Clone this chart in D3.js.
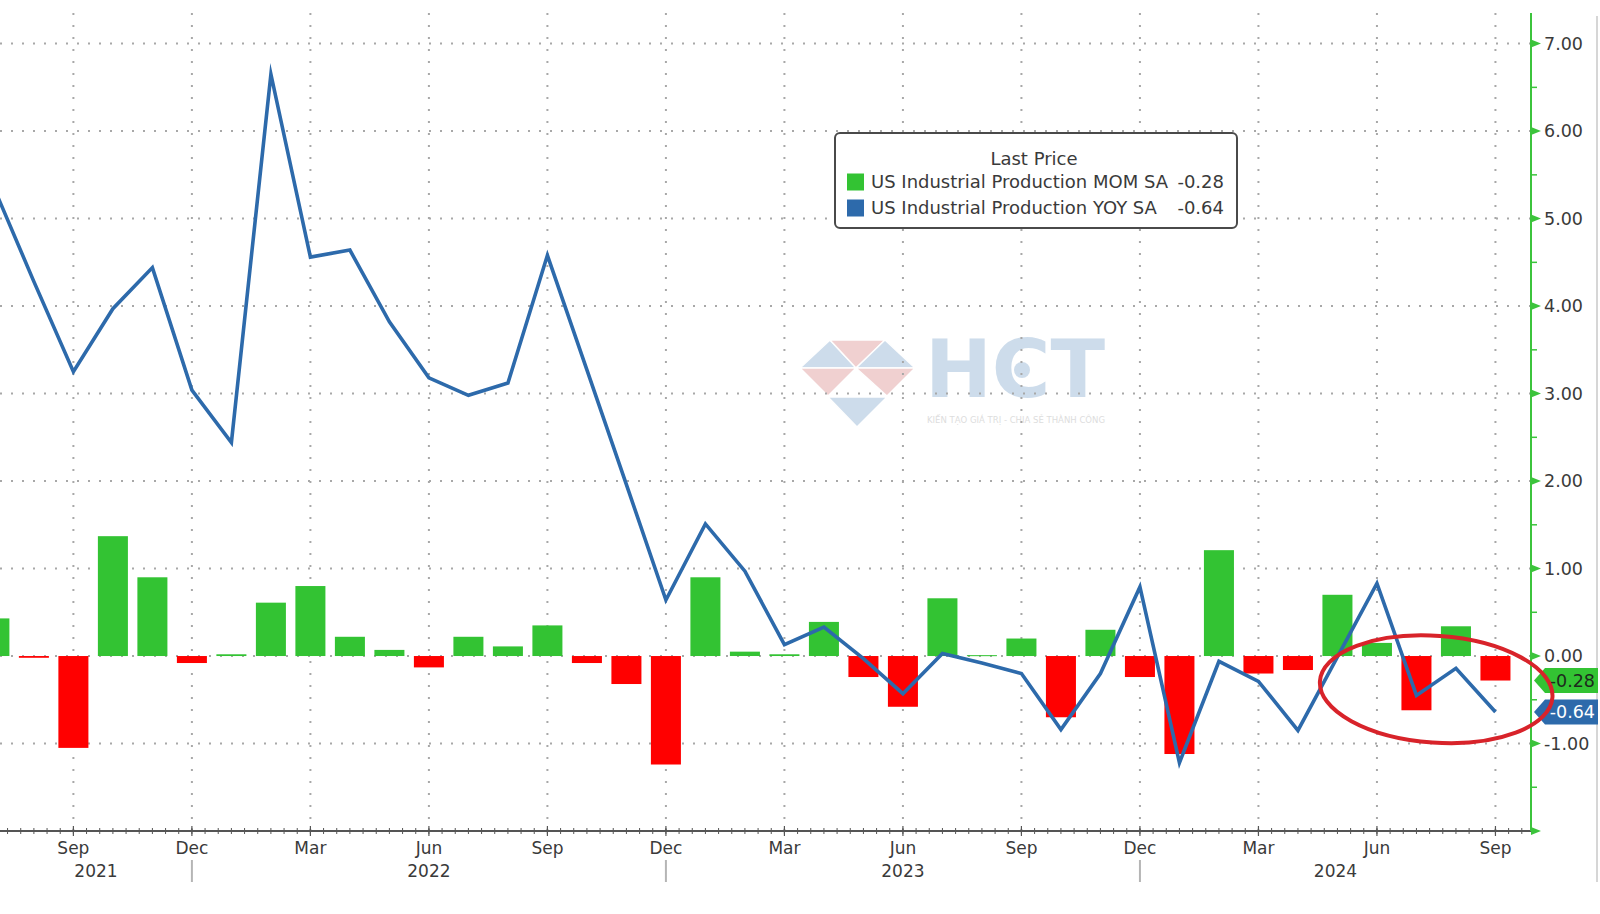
<!DOCTYPE html>
<html><head><meta charset="utf-8">
<script src="https://cdn.jsdelivr.net/npm/d3@7"></script>
<style>
html,body{margin:0;padding:0;background:#fff;overflow:hidden;}
svg{display:block;}
text{font-family:"DejaVu Sans","Verdana",sans-serif;}
</style></head><body>
<svg id="chart" width="1600" height="914"></svg>
<script>
// ---------- DATA ----------
const months = [
  "Jul 2021","Aug 2021","Sep 2021","Oct 2021","Nov 2021","Dec 2021",
  "Jan 2022","Feb 2022","Mar 2022","Apr 2022","May 2022","Jun 2022",
  "Jul 2022","Aug 2022","Sep 2022","Oct 2022","Nov 2022","Dec 2022",
  "Jan 2023","Feb 2023","Mar 2023","Apr 2023","May 2023","Jun 2023",
  "Jul 2023","Aug 2023","Sep 2023","Oct 2023","Nov 2023","Dec 2023",
  "Jan 2024","Feb 2024","Mar 2024","Apr 2024","May 2024","Jun 2024",
  "Jul 2024","Aug 2024","Sep 2024"
];
// US Industrial Production MOM SA (bars)
const mom = [
  0.43, -0.02, -1.05, 1.37, 0.90, -0.08,
  0.02, 0.61, 0.80, 0.22, 0.07, -0.13,
  0.22, 0.11, 0.35, -0.08, -0.32, -1.24,
  0.90, 0.05, 0.02, 0.39, -0.24, -0.58,
  0.66, 0.01, 0.20, -0.70, 0.30, -0.24,
  -1.12, 1.21, -0.20, -0.16, 0.70, 0.15,
  -0.62, 0.34, -0.28
];
// US Industrial Production YOY SA (line)
const yoy = [
  5.34, 4.28, 3.25, 3.97, 4.44, 3.04,
  2.44, 6.65, 4.56, 4.64, 3.82, 3.18,
  2.98, 3.12, 4.58, 3.27, 1.96, 0.64,
  1.51, 0.97, 0.13, 0.33, -0.03, -0.43,
  0.03, -0.08, -0.20, -0.84, -0.20, 0.79,
  -1.22, -0.06, -0.29, -0.85, -0.01, 0.83,
  -0.45, -0.14, -0.64
];
const yTickValues = [-1, 0, 1, 2, 3, 4, 5, 6, 7];
const quarterMonths = ["Sep", "Dec", "Mar", "Jun"];
const years = ["2021", "2022", "2023", "2024"];
const legendTitle = "Last Price";
const seriesNames = ["US Industrial Production MOM SA", "US Industrial Production YOY SA"];
const watermarkText = "HCT";
const watermarkSub = "KIẾN TẠO GIÁ TRỊ - CHIA SẺ THÀNH CÔNG";

// ---------- STYLE ----------
const C = {
  green: "#33c333", red: "#ff0000", blue: "#2d6aab", axisGreen: "#3cc43c",
  grid: "#a8a8a8", text: "#3a3a3a", axis: "#555", ellipse: "#d8232a"
};
const fmt = v => d3.format(".2f")(v).replace("\u2212", "-");

const svg = d3.select("#chart");
const plot = {left: 0, right: 1531, top: 13, bottom: 831};
const x = d3.scaleLinear().domain([0.142, 38.9]).range([plot.left, plot.right]);
const y = d3.scaleLinear().domain([-2, 7.35]).range([plot.bottom, plot.top]);
const step = x(1) - x(0);
const barW = step * 0.76;

svg.append("defs").append("clipPath").attr("id", "clip")
  .append("rect").attr("x", plot.left).attr("y", plot.top)
  .attr("width", plot.right - plot.left).attr("height", plot.bottom - plot.top);

// ---------- WATERMARK ----------
const wm = svg.append("g").attr("opacity", 0.5);
const wx = 800, wy = 340; // logo origin
const tri = [
  {p: [[0,28],[30,0],[56,28]], c: "#9dbbd9"},
  {p: [[30,0],[85,0],[56,28]], c: "#e3a3a3"},
  {p: [[56,28],[85,0],[115,28]], c: "#9dbbd9"},
  {p: [[0,28],[56,28],[28,56]], c: "#e3a3a3"},
  {p: [[56,28],[115,28],[87,56]], c: "#e3a3a3"},
  {p: [[28,57],[87,57],[57,87]], c: "#9dbbd9"}
];
wm.selectAll("polygon").data(tri).join("polygon")
  .attr("points", d => d.p.map(q => [wx + q[0], wy + q[1]].join(",")).join(" "))
  .attr("fill", d => d.c).attr("stroke", "#fff").attr("stroke-width", 1.5);
wm.append("text").attr("x", 925).attr("y", 397)
  .attr("font-family", "Liberation Sans, Arial, sans-serif").attr("font-weight", "bold")
  .attr("font-size", 80).attr("textLength", 180).attr("lengthAdjust", "spacing")
  .attr("fill", "#9dbbd9").text(watermarkText);
wm.append("circle").attr("cx", 1022).attr("cy", 370).attr("r", 8).attr("fill", "#9dbbd9");
wm.append("text").attr("x", 927).attr("y", 423).attr("font-size", 8)
  .attr("textLength", 178).attr("lengthAdjust", "spacingAndGlyphs").attr("fill", "#bdbdbd").text(watermarkSub);

// ---------- GRID ----------
const quarterIdx = months.map((m, i) => i).filter(i => quarterMonths.includes(months[i].slice(0, 3)));
svg.append("g").selectAll("line").data(yTickValues).join("line")
  .attr("x1", plot.left).attr("x2", plot.right)
  .attr("y1", d => y(d)).attr("y2", d => y(d))
  .attr("stroke", C.grid).attr("stroke-width", 2).attr("stroke-dasharray", "2,9");
svg.append("g").selectAll("line").data(quarterIdx).join("line")
  .attr("x1", d => x(d)).attr("x2", d => x(d))
  .attr("y1", plot.top).attr("y2", plot.bottom)
  .attr("stroke", C.grid).attr("stroke-width", 2).attr("stroke-dasharray", "2,10");

// ---------- BARS ----------
const pg = svg.append("g").attr("clip-path", "url(#clip)");
pg.selectAll("rect.bar").data(mom).join("rect").attr("class", "bar")
  .attr("x", (d, i) => x(i) - barW / 2)
  .attr("y", d => y(Math.max(0, d)))
  .attr("width", barW)
  .attr("height", d => Math.max(1, Math.abs(y(d) - y(0))))
  .attr("fill", d => d >= 0 ? C.green : C.red);

// ---------- LINE ----------
pg.append("path").datum(yoy)
  .attr("d", d3.line().x((d, i) => x(i)).y(d => y(d)))
  .attr("fill", "none").attr("stroke", C.blue).attr("stroke-width", 3.6)
  .attr("stroke-linejoin", "miter").attr("stroke-miterlimit", 10);

// ---------- X AXIS ----------
const xa = svg.append("g");
xa.append("line").attr("x1", plot.left).attr("x2", plot.right)
  .attr("y1", plot.bottom).attr("y2", plot.bottom)
  .attr("stroke", C.axis).attr("stroke-width", 2);
const minor = d3.range(Math.ceil(x.domain()[0] * 3) / 3, x.domain()[1], 1 / 3);
xa.selectAll("line.mt").data(minor).join("line").attr("class", "mt")
  .attr("x1", d => x(d)).attr("x2", d => x(d))
  .attr("y1", plot.bottom - 3).attr("y2", plot.bottom + 3)
  .attr("stroke", C.axis).attr("stroke-width", 1);
xa.selectAll("line.qt").data(quarterIdx).join("line").attr("class", "qt")
  .attr("x1", d => x(d)).attr("x2", d => x(d))
  .attr("y1", plot.bottom - 5).attr("y2", plot.bottom + 5)
  .attr("stroke", C.axis).attr("stroke-width", 1.2);
xa.selectAll("text.ml").data(quarterIdx).join("text").attr("class", "ml")
  .attr("x", d => x(d)).attr("y", 854).attr("text-anchor", "middle")
  .attr("font-size", 17).attr("fill", C.text).text(d => months[d].slice(0, 3));
const decIdx = months.map((m, i) => i).filter(i => months[i].startsWith("Dec"));
xa.selectAll("line.ys").data(decIdx).join("line").attr("class", "ys")
  .attr("x1", d => x(d)).attr("x2", d => x(d)).attr("y1", 860).attr("y2", 882)
  .attr("stroke", "#b5b5b5").attr("stroke-width", 2);
const bounds = [x.domain()[0], ...decIdx, x.domain()[1]];
xa.selectAll("text.yl").data(years).join("text").attr("class", "yl")
  .attr("x", (d, i) => (x(bounds[i]) + x(bounds[i + 1])) / 2).attr("y", 877)
  .attr("text-anchor", "middle").attr("font-size", 17).attr("fill", C.text).text(d => d);

// ---------- RIGHT AXIS ----------
const ya = svg.append("g");
ya.append("line").attr("x1", plot.right).attr("x2", plot.right)
  .attr("y1", plot.top).attr("y2", plot.bottom)
  .attr("stroke", C.axisGreen).attr("stroke-width", 2);
const majors = d3.range(-2, 8);
ya.selectAll("polygon").data(majors).join("polygon")
  .attr("points", d => `${plot.right},${y(d) - 4} ${plot.right + 10},${y(d)} ${plot.right},${y(d) + 4}`)
  .attr("fill", C.axisGreen);
ya.selectAll("line.hm").data(d3.range(-1.5, 7.5, 1)).join("line").attr("class", "hm")
  .attr("x1", plot.right).attr("x2", plot.right + 6)
  .attr("y1", d => y(d)).attr("y2", d => y(d))
  .attr("stroke", C.axisGreen).attr("stroke-width", 1.5);
ya.selectAll("text").data(yTickValues).join("text")
  .attr("x", plot.right + 13).attr("y", d => y(d)).attr("dy", "0.36em")
  .attr("font-size", 17.5).attr("fill", C.text).text(d => fmt(d));

// right border
svg.append("line").attr("x1", 1597).attr("x2", 1597).attr("y1", 16).attr("y2", 882)
  .attr("stroke", "#c8c8c8").attr("stroke-width", 1.5);

// ---------- LAST VALUE TAGS ----------
const lastMom = mom[mom.length - 1], lastYoy = yoy[yoy.length - 1];
const tags = [
  {v: lastMom, fill: C.green, tc: "#1d2a1d"},
  {v: lastYoy, fill: C.blue, tc: "#ffffff"}
];
const tg = svg.append("g");
tags.forEach(t => {
  const cy = y(t.v), h = 25, x0 = plot.right + 3, x1 = plot.right + 14, x2 = 1598;
  tg.append("polygon")
    .attr("points", `${x0},${cy} ${x1},${cy - h / 2} ${x2},${cy - h / 2} ${x2},${cy + h / 2} ${x1},${cy + h / 2}`)
    .attr("fill", t.fill);
  tg.append("text").attr("x", x2 - 3).attr("y", cy).attr("dy", "0.36em")
    .attr("text-anchor", "end").attr("font-size", 17.5).attr("fill", t.tc)
    .text(fmt(t.v));
});

// ---------- LEGEND ----------
const lg = svg.append("g");
lg.append("rect").attr("x", 835).attr("y", 133).attr("width", 402).attr("height", 95)
  .attr("rx", 5).attr("fill", "#fff").attr("stroke", "#4a4a4a").attr("stroke-width", 2);
lg.append("text").attr("x", 1034).attr("y", 165).attr("text-anchor", "middle")
  .attr("font-size", 18).attr("fill", C.text).text(legendTitle);
const legendRows = [
  {name: seriesNames[0], color: C.green, v: lastMom},
  {name: seriesNames[1], color: C.blue, v: lastYoy}
];
lg.selectAll("g.row").data(legendRows).join("g").attr("class", "row")
  .attr("transform", (d, i) => `translate(0,${182 + i * 26})`)
  .each(function (d) {
    const r = d3.select(this);
    r.append("rect").attr("x", 847).attr("y", -8.5).attr("width", 17).attr("height", 17).attr("fill", d.color);
    r.append("text").attr("x", 871).attr("y", 0).attr("dy", "0.36em")
      .attr("font-size", 18).attr("fill", C.text).text(d.name);
    r.append("text").attr("x", 1224).attr("y", 0).attr("dy", "0.36em").attr("text-anchor", "end")
      .attr("font-size", 18).attr("fill", C.text).text(fmt(d.v));
  });

// ---------- ANNOTATION ELLIPSE ----------
const ecx = x(36.5), ecy = y(-0.38);
svg.append("ellipse").attr("cx", ecx).attr("cy", ecy)
  .attr("rx", x(39.45) - x(36.5)).attr("ry", y(-0.99) - y(-0.38))
  .attr("transform", `rotate(4 ${ecx} ${ecy})`)
  .attr("fill", "none").attr("stroke", C.ellipse).attr("stroke-width", 4);
</script>
</body></html>
